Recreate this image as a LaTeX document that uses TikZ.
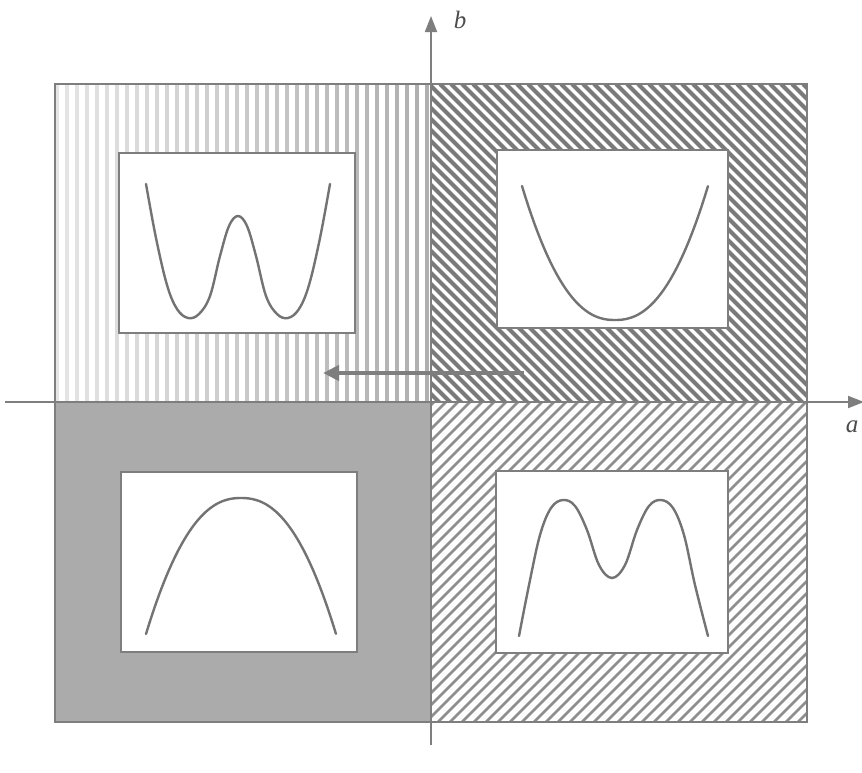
\documentclass[tikz,border=0pt]{standalone}
\usepackage{fontspec}
\setmainfont{Liberation Serif}
\usetikzlibrary{arrows.meta}
\definecolor{axisgray}{HTML}{7E7E7E}
\definecolor{darkstripe}{HTML}{7A7A7A}
\definecolor{midstripe}{HTML}{8E8E8E}
\definecolor{stipple}{HTML}{ABABAB}
\definecolor{curvegray}{HTML}{737373}
\tikzset{
  innerbox/.style={draw=axisgray, line width=1.8pt, fill=white, minimum width=236pt, minimum height=180pt, inner sep=0pt},
  axisline/.style={draw=axisgray, line width=1.8pt, -{Triangle[length=16pt,width=12pt]}},
  curve/.style={draw=curvegray, line width=2.4pt, line cap=round},
  lbl/.style={text=black!70, font=\fontsize{25}{27}\selectfont\itshape, inner sep=0pt},
}
\begin{document}
\begin{tikzpicture}[x=1pt,y=-1pt]
\useasboundingbox (0,0) rectangle (862,772);
\fill[white] (0,0) rectangle (862,772);
% top-left: vertical light stripes, darker toward the right
\begin{scope}
\clip (55,84) rectangle (432,402);
\foreach \x in {57,67,...,437} {
  \pgfmathsetmacro{\shade}{10+22*(\x-57)/380}
  \draw[black!\shade, line width=4.5pt] (\x,84) -- (\x,402);
}
\end{scope}
% top-right: dense dark diagonal
\begin{scope}
\clip (432,84) rectangle (807,402);
\foreach \x in {-330,-319,...,810} \draw[darkstripe, line width=4.2pt] (\x,84) -- ++(330,330);
\end{scope}
% bottom-left: stipple gray
\fill[stipple] (55,402) rectangle (432,722);
% bottom-right: lighter diagonal
\begin{scope}
\clip (432,402) rectangle (807,722);
\foreach \x in {-330,-318,...,810} \draw[midstripe, line width=2.6pt] (\x,722) -- ++(330,-330);
\end{scope}
\draw[axisgray, line width=1.8pt] (55,84) rectangle (807,722);
% inner boxes
\node[innerbox] (tl) at (237,243) {};
\node[innerbox, minimum width=231pt, minimum height=178pt] (tr) at (612.5,239) {};
\node[innerbox] (bl) at (239,562) {};
\node[innerbox, minimum width=232pt, minimum height=182pt] (br) at (612,562) {};
% curves
\draw[curve] plot[smooth, tension=0.6] coordinates {(146,184) (156,238) (167,285) (177,309) (188,318) (199,314) (210,296) (220,256) (229,226) (238,216) (247,226) (256,256) (266,296) (277,314) (288,318) (299,309) (309,285) (320,238) (330,184)};
\draw[curve] plot[domain=-1:1, samples=60] ({615+93*\x},{320-134*abs(\x)^2.3});
\draw[curve] plot[domain=-1:1, samples=60] ({241+95*\x},{498+136*abs(\x)^2.3});
\draw[curve] plot[smooth, tension=0.6] coordinates {(519,636) (529,585) (540,535) (551,508) (563,500) (575,506) (587,530) (599,565) (612,578) (625,565) (637,530) (649,506) (661,500) (673,508) (684,535) (695,585) (708,636)};
% axes
\coordinate (yb) at (431,745);
\coordinate (yt) at (431,16);
\coordinate (xl) at (5,402);
\coordinate (xr) at (864,402);
\draw[axisline] (yb) -- (yt);
\draw[axisline] (xl) -- (xr);
\node[lbl] (lb) at (460,20) {b};
\node[lbl] (la) at (852,427) {a};
% arrow
\coordinate (as) at (524,373);
\coordinate (ae) at (323,373);
\draw[axisgray, line width=4.8pt, -{Triangle[length=16pt,width=15pt]}] (as) -- (ae);
\end{tikzpicture}
\end{document}
